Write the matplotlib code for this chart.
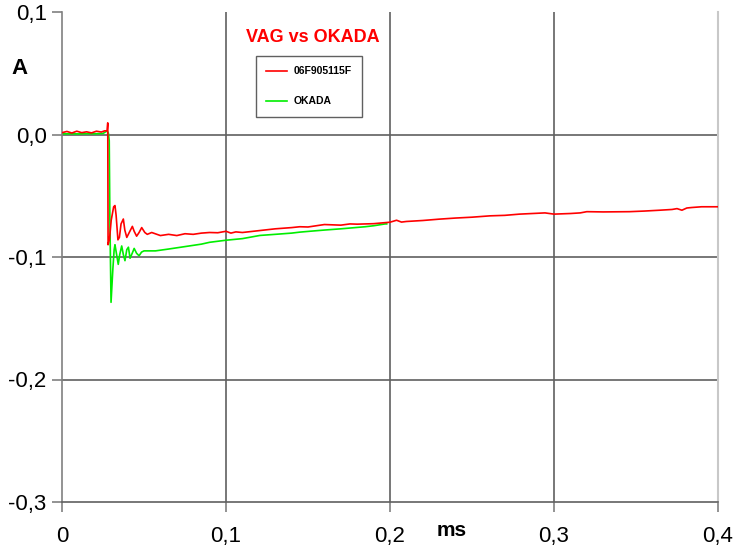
import matplotlib.pyplot as plt

plt.rcParams['font.family'] = ['Liberation Sans', 'DejaVu Sans']

# measured current, 06F905115F (red)
red_t = [0.0, 0.003, 0.006, 0.009, 0.012, 0.015, 0.018, 0.021, 0.024, 0.026, 0.0275,
         0.0279, 0.0281, 0.0290, 0.0300, 0.0315, 0.0323, 0.0330, 0.0341, 0.0350, 0.0360,
         0.0374, 0.0383, 0.0395, 0.0410, 0.0429, 0.0440, 0.0455, 0.0470, 0.0486, 0.0505,
         0.052, 0.0547, 0.060, 0.065, 0.070, 0.075, 0.080, 0.085, 0.090, 0.095,
         0.100, 0.103, 0.106, 0.110, 0.120, 0.130, 0.140, 0.145, 0.150, 0.160, 0.170,
         0.1756, 0.180, 0.190, 0.200, 0.204, 0.207, 0.210, 0.220, 0.230, 0.240, 0.250,
         0.261, 0.270, 0.279, 0.2945, 0.300, 0.310, 0.316, 0.320, 0.330, 0.346, 0.355,
         0.3646, 0.372, 0.375, 0.378, 0.381, 0.384, 0.390, 0.400]
red_a = [0.0015, 0.0025, 0.0012, 0.0027, 0.0015, 0.0022, 0.0013, 0.0027, 0.0020, 0.0030, 0.0030,
         0.0095, -0.0900, -0.0850, -0.0700, -0.0590, -0.0580, -0.0660, -0.0860, -0.0840, -0.0730,
         -0.0690, -0.0780, -0.0840, -0.0800, -0.0750, -0.0790, -0.0830, -0.0800, -0.0760, -0.0800,
         -0.0815, -0.0800, -0.0825, -0.0815, -0.0825, -0.0810, -0.0815, -0.0805, -0.0800, -0.0802,
         -0.0790, -0.0805, -0.0795, -0.0800, -0.0785, -0.0770, -0.0760, -0.0753, -0.0755, -0.0735, -0.0740,
         -0.0730, -0.0732, -0.0728, -0.0716, -0.0700, -0.0715, -0.0710, -0.0702, -0.0691, -0.0682, -0.0675,
         -0.0664, -0.0660, -0.0650, -0.0640, -0.0650, -0.0645, -0.0640, -0.0630, -0.0632, -0.0630, -0.0625,
         -0.0618, -0.0612, -0.0605, -0.0618, -0.0600, -0.0596, -0.0590, -0.0590]

# OKADA (green)
green_t = [0.0, 0.005, 0.010, 0.015, 0.020, 0.025, 0.0275, 0.0283, 0.0288, 0.0292, 0.0299,
           0.0310, 0.0318, 0.0323, 0.0333, 0.0343, 0.0352, 0.0364, 0.0374, 0.0384, 0.0395,
           0.0405, 0.0415, 0.0428, 0.0440, 0.0455, 0.0470, 0.0485, 0.0500, 0.0570,
           0.065, 0.075, 0.085, 0.090, 0.100, 0.110, 0.1207, 0.130, 0.140, 0.145, 0.151,
           0.160, 0.170, 0.1848, 0.190, 0.197, 0.198]
green_a = [0.0005, 0.0006, 0.0005, 0.0007, 0.0006, 0.0008, 0.0030, 0.0010, -0.0050, -0.0700, -0.1370,
           -0.1100, -0.0940, -0.0900, -0.0980, -0.1060, -0.0980, -0.0910, -0.0980, -0.1030, -0.0940,
           -0.0920, -0.1010, -0.0970, -0.0930, -0.0970, -0.0990, -0.0960, -0.0950, -0.0950,
           -0.0935, -0.0915, -0.0895, -0.0880, -0.0863, -0.0850, -0.0824, -0.0815, -0.0805, -0.0797, -0.0790,
           -0.0780, -0.0770, -0.0753, -0.0745, -0.0730, -0.0730]

x_ticks = [0, 0.1, 0.2, 0.3, 0.4]
y_ticks = [-0.3, -0.2, -0.1, 0.0, 0.1]

fig = plt.figure(figsize=(7.36, 5.52), dpi=100)
ax = fig.add_axes([62 / 736, 1 - 502 / 552, 656 / 736, 490 / 552])

ax.plot(red_t, red_a, color='#ff0000', lw=1.2, label='06F905115F', zorder=3)
ax.plot(green_t, green_a, color='#00ee00', lw=1.2, label='OKADA', zorder=2)

ax.set_xlim(0, 0.4)
ax.set_ylim(-0.3, 0.1)
ax.set_xticks(x_ticks)
ax.set_yticks(y_ticks)
ax.set_xticklabels(['0'] + [('%.1f' % v).replace('.', ',') for v in x_ticks[1:]])
ax.set_yticklabels([('%.1f' % v).replace('.', ',') for v in y_ticks])
ax.tick_params(labelsize=16, color='#808080', length=7, width=1.2)
ax.tick_params(axis='x', pad=10)
ax.tick_params(axis='y', pad=4)

for v in [-0.2, -0.1, 0.0]:
    ax.axhline(v, color='#606060', lw=1.2, zorder=1)
for v in [0.1, 0.2, 0.3]:
    ax.axvline(v, color='#606060', lw=1.2, zorder=1)

ax.spines['top'].set_visible(False)
ax.spines['right'].set_color('#c8c8c8')
ax.spines['right'].set_linewidth(1.5)
ax.spines['left'].set_color('#808080')
ax.spines['bottom'].set_color('#606060')
ax.spines['left'].set_linewidth(1.2)
ax.spines['bottom'].set_linewidth(1.2)

fig.text(313 / 736, 1 - 37 / 552, 'VAG vs OKADA', color='#ff0000', fontsize=13,
         fontweight='bold', ha='center', va='center')
fig.text(20 / 736, 1 - 68 / 552, 'A', fontsize=16, fontweight='bold', ha='center', va='center')
fig.text(452 / 736, 1 - 530 / 552, 'ms', fontsize=15, fontweight='bold', ha='center', va='center')

leg = ax.legend(loc='upper left', bbox_to_anchor=(256 / 736, 1 - 56 / 552),
                bbox_transform=fig.transFigure, prop={'size': 7.5, 'weight': 'bold'},
                fancybox=False, framealpha=1, edgecolor='#606060', handlelength=2.0,
                handletextpad=0.6, labelspacing=1.9, borderpad=1.0, borderaxespad=0)
leg.get_frame().set_linewidth(1.0)

fig.savefig('out.png', dpi=100)
